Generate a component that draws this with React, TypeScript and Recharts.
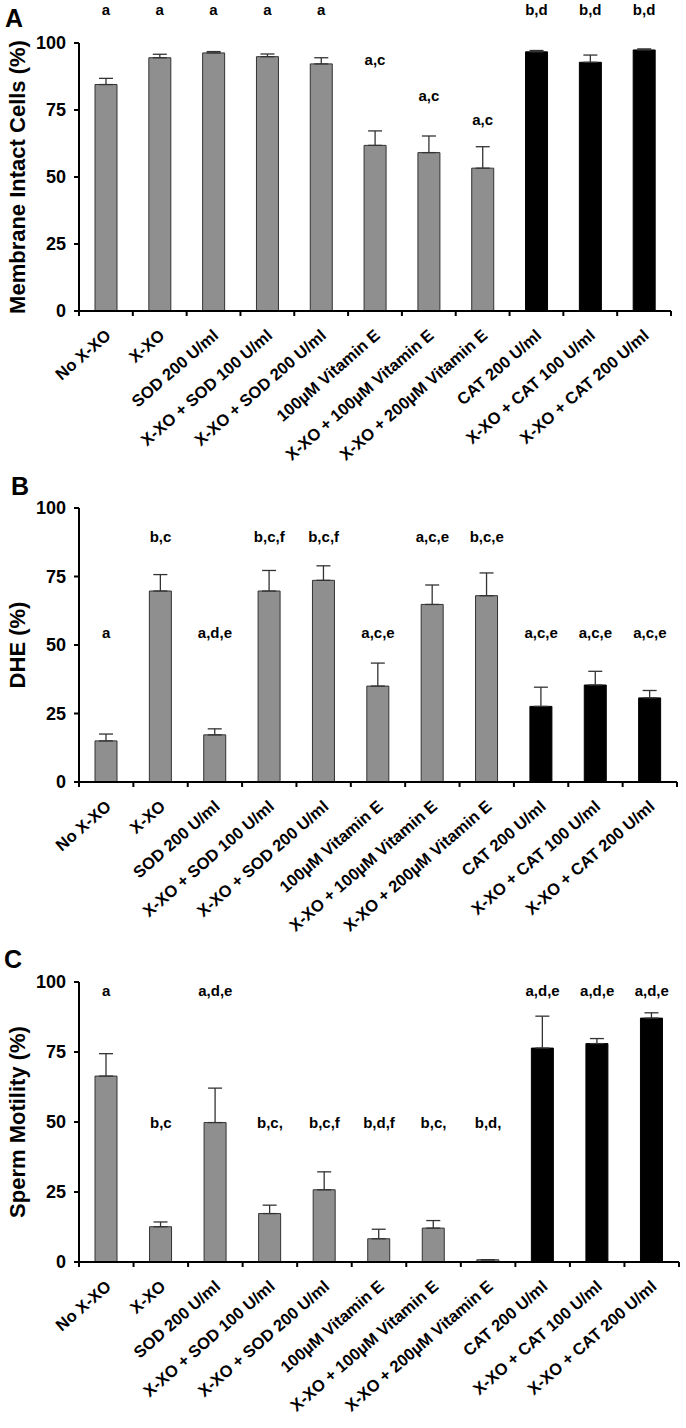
import React from 'react';
import { BarChart, Bar, XAxis, YAxis, ErrorBar, Cell, ReferenceDot } from 'recharts';

const groups = [
  'No X-XO',
  'X-XO',
  'SOD 200 U/ml',
  'X-XO + SOD 100 U/ml',
  'X-XO + SOD 200 U/ml',
  '100µM Vitamin E',
  'X-XO + 100µM Vitamin E',
  'X-XO + 200µM Vitamin E',
  'CAT 200 U/ml',
  'X-XO + CAT 100 U/ml',
  'X-XO + CAT 200 U/ml',
];
const antioxidant = ['none', 'none', 'SOD', 'SOD', 'SOD', 'VitE', 'VitE', 'VitE', 'CAT', 'CAT', 'CAT'];

// A - membrane intact cells
const membrane = [84.5, 94.5, 96.3, 94.9, 92.2, 61.8, 59.1, 53.3, 96.7, 92.8, 97.4];
const membraneSem = [2.3, 1.3, 0.5, 1.0, 2.3, 5.4, 6.2, 8.0, 0.5, 2.7, 0.4];
const membraneLetters = ['a', 'a', 'a', 'a', 'a', 'a,c', 'a,c', 'a,c', 'b,d', 'b,d', 'b,d'];
const membraneLetterAt = [112.4, 112.4, 112.4, 112.4, 112.4, 93.6, 80.5, 71.5, 112.4, 112.4, 112.4];

// B - DHE
const dhe = [15.0, 69.7, 17.2, 69.7, 73.6, 35.0, 64.8, 68.0, 27.6, 35.4, 30.7];
const dheSem = [2.5, 6.0, 2.2, 7.5, 5.3, 8.4, 7.1, 8.3, 7.0, 5.0, 2.7];
const dheLetters = ['a', 'b,c', 'a,d,e', 'b,c,f', 'b,c,f', 'a,c,e', 'a,c,e', 'b,c,e', 'a,c,e', 'a,c,e', 'a,c,e'];
const dheLetterAt = [54.5, 89.5, 54.5, 89.5, 89.5, 54.5, 89.5, 89.5, 54.5, 54.5, 54.5];

// C - sperm motility
const motility = [66.4, 12.6, 49.8, 17.3, 25.8, 8.3, 12.1, 0.8, 76.4, 78.0, 87.1];
const motilitySem = [8.0, 1.7, 12.3, 3.0, 6.4, 3.4, 2.7, 0, 11.4, 1.8, 1.9];
const motilityLetters = ['a', 'b,c', 'a,d,e', 'b,c,', 'b,c,f', 'b,d,f', 'b,c,', 'b,d,', 'a,d,e', 'a,d,e', 'a,d,e'];
const motilityLetterAt = [96.9, 49.9, 96.9, 49.9, 49.9, 49.9, 49.9, 49.9, 96.9, 96.9, 96.9];

const yTicks = [0, 25, 50, 75, 100];

const FONT = '"Liberation Sans", Arial, Helvetica, sans-serif';

function CategoryTick(props: any) {
  const { x, y, payload, index } = props;
  const half = payload && payload.offset ? payload.offset : 27;
  const last = index === groups.length - 1;
  const tx = x + 6;
  const ty = y + 26;
  return (
    <g>
      <line x1={x - half} x2={x - half} y1={y} y2={y + 5} stroke="#000" strokeWidth={2} />
      {last && <line x1={x + half} x2={x + half} y1={y} y2={y + 5} stroke="#000" strokeWidth={2} />}
      <text
        x={tx}
        y={ty}
        transform={`rotate(-41, ${tx}, ${ty})`}
        textAnchor="end"
        fontFamily={FONT}
        fontWeight="bold"
        fontSize={16.5}
        fill="#000"
      >
        {payload.value}
      </text>
    </g>
  );
}

function AxisTitle({ viewBox, text }: any) {
  const cx = 17;
  const cy = viewBox.y + viewBox.height / 2;
  return (
    <text
      x={cx}
      y={cy}
      transform={`rotate(-90, ${cx}, ${cy})`}
      textAnchor="middle"
      dominantBaseline="central"
      fontFamily={FONT}
      fontWeight="bold"
      fontSize={22}
      fill="#000"
    >
      {text}
    </text>
  );
}

function Panel({ top, height, margin, values, sem, letters, letterAt, title, tag, tagTop, tagLeft }: any) {
  const data = groups.map((g, i) => ({ group: g, value: values[i], err: [0, sem[i]], kind: antioxidant[i] }));
  return (
    <div style={{ position: 'absolute', left: 0, top, width: 686, height }}>
      <div
        style={{
          position: 'absolute',
          left: tagLeft,
          top: tagTop,
          fontFamily: FONT,
          fontWeight: 'bold',
          fontSize: 25,
          lineHeight: 1,
        }}
      >
        {tag}
      </div>
      <BarChart width={686} height={height} data={data} margin={margin}>
        <XAxis
          dataKey="group"
          interval={0}
          height={120}
          tickSize={0}
          tickMargin={0}
          tickLine={false}
          axisLine={{ stroke: '#000', strokeWidth: 2 }}
          tick={<CategoryTick />}
        />
        <YAxis
          type="number"
          domain={[0, 100]}
          ticks={yTicks}
          width={60}
          tickSize={5}
          tickMargin={8}
          axisLine={{ stroke: '#000', strokeWidth: 2 }}
          tickLine={{ stroke: '#000', strokeWidth: 2 }}
          tick={{ fill: '#000', fontSize: 18, fontWeight: 'bold', fontFamily: FONT }}
          label={{ content: (p: any) => <AxisTitle viewBox={p.viewBox} text={title} /> }}
        />
        <Bar dataKey="value" barSize={22} stroke="#333" strokeWidth={1} isAnimationActive={false}>
          {data.map((d, i) => (
            <Cell key={i} fill={d.kind === 'CAT' ? '#000' : '#8f8f8f'} stroke={d.kind === 'CAT' ? '#000' : '#333'} />
          ))}
          <ErrorBar dataKey="err" direction="y" width={7} stroke="#333" strokeWidth={1.3} isAnimationActive={false} />
        </Bar>
        {letters.map((t: string, i: number) => (
          <ReferenceDot
            key={i}
            x={groups[i]}
            y={letterAt[i]}
            r={0}
            fill="none"
            stroke="none"
            ifOverflow="visible"
            label={{ value: t, position: 'center', fill: '#000', fontSize: 15, fontWeight: 'bold', fontFamily: FONT }}
          />
        ))}
      </BarChart>
    </div>
  );
}

export default function App() {
  return (
    <div style={{ position: 'absolute', left: 0, top: 0, width: 686, height: 1428, background: '#fff' }}>
      <Panel
        top={0}
        height={500}
        margin={{ top: 43, right: 15, left: 19, bottom: 69 }}
        values={membrane}
        sem={membraneSem}
        letters={membraneLetters}
        letterAt={membraneLetterAt}
        title="Membrane Intact Cells (%)"
        tag="A"
        tagTop={6}
        tagLeft={5}
      />
      <Panel
        top={440}
        height={540}
        margin={{ top: 68, right: 9, left: 19, bottom: 78 }}
        values={dhe}
        sem={dheSem}
        letters={dheLetters}
        letterAt={dheLetterAt}
        title="DHE (%)"
        tag="B"
        tagTop={34}
        tagLeft={11}
      />
      <Panel
        top={920}
        height={508}
        margin={{ top: 62, right: 7, left: 19, bottom: 46 }}
        values={motility}
        sem={motilitySem}
        letters={motilityLetters}
        letterAt={motilityLetterAt}
        title="Sperm Motility (%)"
        tag="C"
        tagTop={27}
        tagLeft={4}
      />
    </div>
  );
}
